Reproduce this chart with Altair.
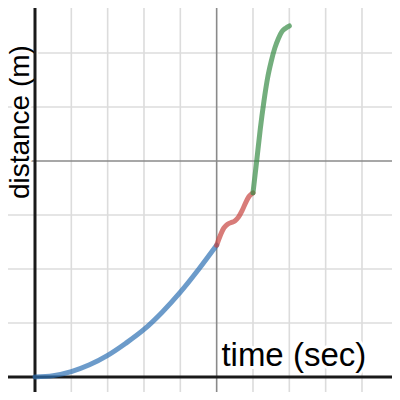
import altair as alt
import pandas as pd

# Blue segment (0..5 s)
blue_x = [0, 0.5, 1, 1.5, 2, 2.5, 3, 3.5, 4, 4.5, 5]
blue_y = [0, 0.025, 0.1, 0.225, 0.4, 0.625, 0.88, 1.2, 1.57, 1.99, 2.44]
# Red segment (5..6 s)
red_x = [5.0, 5.1, 5.2, 5.3, 5.4, 5.5, 5.6, 5.7, 5.8, 5.9, 6.0]
red_y = [2.44, 2.62, 2.76, 2.83, 2.86, 2.89, 2.96, 3.08, 3.23, 3.35, 3.41]
# Green segment (6..7 s)
green_x = [6.0, 6.1, 6.2, 6.3, 6.4, 6.5, 6.6, 6.7, 6.8, 6.9, 7.0]
green_y = [3.41, 3.99, 4.59, 5.10, 5.53, 5.84, 6.09, 6.27, 6.40, 6.46, 6.50]

minor_x = [1, 2, 3, 4, 6, 7, 8, 9]
major_x = [5]
minor_y = [1, 2, 3, 5, 6]
major_y = [4]

x_label = "time (sec)"
y_label = "distance (m)"

xs = alt.Scale(domain=[-0.743, 9.826], nice=False, zero=False)
ys = alt.Scale(domain=[-0.278, 6.833], nice=False, zero=False)

FONT = "Liberation Sans"

def vrules(vals, color, width):
    return alt.Chart(pd.DataFrame({"x": vals})).mark_rule(
        color=color, strokeWidth=width
    ).encode(x=alt.X("x:Q", scale=xs, axis=None))

def hrules(vals, color, width):
    return alt.Chart(pd.DataFrame({"y": vals})).mark_rule(
        color=color, strokeWidth=width
    ).encode(y=alt.Y("y:Q", scale=ys, axis=None))

def curve(xv, yv, color):
    return alt.Chart(pd.DataFrame({"x": xv, "y": yv})).mark_line(
        color=color, strokeWidth=5, strokeCap="round", strokeJoin="round",
        strokeOpacity=0.7, interpolate="monotone"
    ).encode(
        x=alt.X("x:Q", scale=xs, axis=None),
        y=alt.Y("y:Q", scale=ys, axis=None),
        order="x:Q",
    )

def label(text, x, y, angle, align, size, halo):
    df = pd.DataFrame({"x": [x], "y": [y], "t": [text]})
    base = alt.Chart(df)
    kw = dict(font=FONT, fontSize=size, align=align, baseline="alphabetic", angle=angle)
    enc = dict(x=alt.X("x:Q", scale=xs, axis=None), y=alt.Y("y:Q", scale=ys, axis=None), text="t:N")
    h = base.mark_text(fill="white", stroke="white", strokeWidth=halo, strokeJoin="round", **kw).encode(**enc)
    f = base.mark_text(fill="black", **kw).encode(**enc)
    return h + f

layers = [
    vrules(minor_x, "#dcdcdc", 1.6),
    hrules(minor_y, "#dcdcdc", 1.6),
    vrules(major_x, "#8a8a8a", 1.6),
    hrules(major_y, "#8a8a8a", 1.6),
    label(x_label, 5.13, 0.204, 0, "left", 33, 6),
    label(y_label, -0.171, 4.72, 270, "center", 28, 6),
    vrules([0], "#1a1a1a", 3),
    hrules([0], "#1a1a1a", 3),
    curve(blue_x, blue_y, "#2d70b3"),
    curve(red_x, red_y, "#c74440"),
    curve(green_x, green_y, "#388c46"),
]

chart = alt.layer(*layers).properties(
    width=384, height=384, padding=0, autosize="none"
).configure_view(stroke=None)

chart.save("out.html", embed_options={"renderer": "svg", "actions": False})
